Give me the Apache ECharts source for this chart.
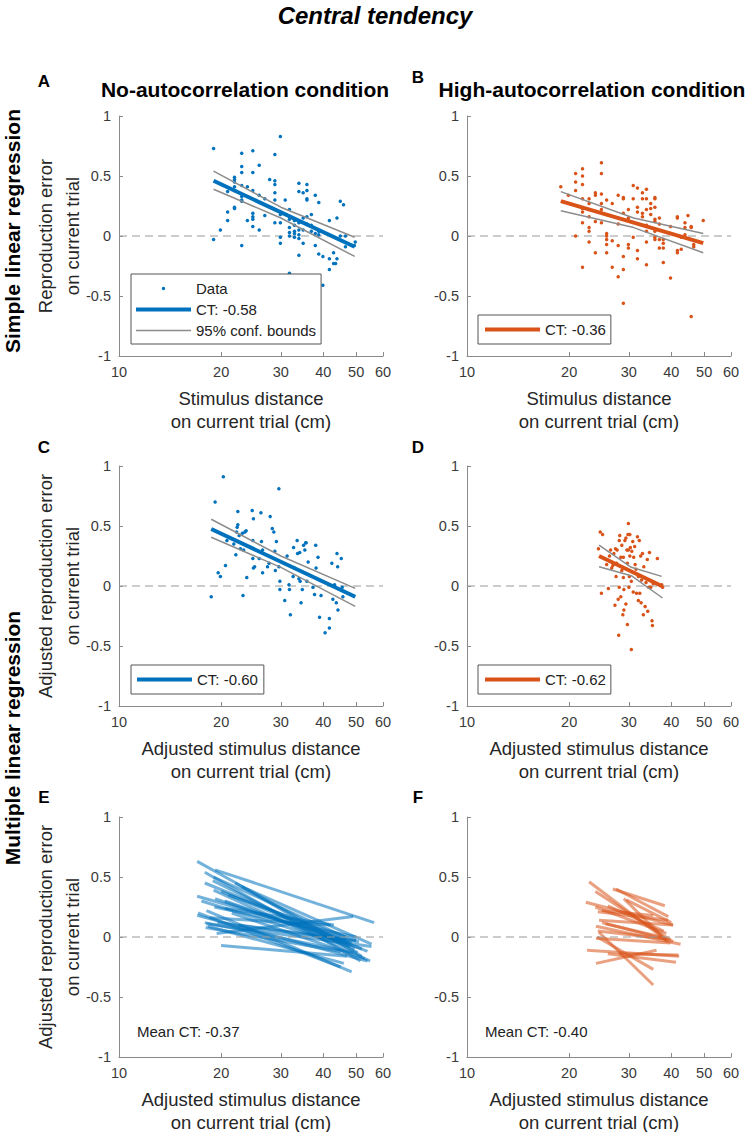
<!DOCTYPE html>
<html><head><meta charset="utf-8">
<script src="https://cdn.jsdelivr.net/npm/echarts@6/dist/echarts.min.js"></script>
<style>html,body{margin:0;padding:0;background:#fff}#chart{width:748px;height:1132px}</style>
</head><body><div id="chart"></div>
<script>
// ---------------- data ----------------
const xTicks = [10, 20, 30, 40, 50, 60];
const yTicks = [-1, -0.5, 0, 0.5, 1];
const zeroLine = [[10, 0], [60, 0]];

// Panel A: simple regression, no-autocorrelation (x = stimulus distance cm, y = reproduction error)
const scatterA = [[19.0,0.73],[19.0,-0.03],[19.9,0.05],[20.9,0.20],[20.9,0.13],[20.9,0.37],
[21.9,0.49],[21.9,0.47],[21.9,0.45],[21.9,0.41],[21.9,0.38],[21.9,0.24],[21.9,0.23],
[23.0,0.69],[23.0,0.58],[23.0,0.53],[23.0,0.42],[23.0,0.33],[23.0,0.30],[23.0,0.29],[23.0,-0.08],
[23.9,0.41],[23.9,0.13],[24.8,0.71],[24.8,0.53],[24.8,0.38],[24.8,0.19],[24.8,0.16],[24.8,0.14],[24.8,0.08],
[25.9,0.59],[25.9,0.34],[25.9,0.05],[26.9,0.31],[26.9,0.17],[27.8,0.47],
[28.8,0.68],[28.8,0.46],[28.8,0.36],[28.8,0.30],[28.8,0.11],[28.8,0.43],
[29.9,0.83],[29.9,0.18],[29.9,0.11],[29.9,-0.01],[29.9,-0.06],[30.9,0.30],
[31.8,0.22],[31.8,0.14],[31.8,0.07],[31.8,0.03],[31.8,0.00],[31.8,-0.31],
[32.9,0.13],[32.9,0.09],[32.9,0.04],[32.9,0.02],[32.9,-0.01],
[33.9,0.44],[33.9,0.37],[33.9,0.11],[33.9,0.05],[33.9,0.01],[33.9,-0.02],[33.9,-0.16],
[34.9,0.36],[34.9,0.15],[34.9,0.05],[34.9,-0.06],
[35.8,0.43],[35.8,0.38],[35.8,0.31],[35.8,0.30],[35.8,0.16],[35.8,0.10],
[36.9,0.18],[36.9,0.09],[36.9,0.04],[37.9,0.34],[37.9,-0.08],[37.9,0.02],
[38.8,0.28],[38.8,0.04],[38.8,0.01],[38.8,-0.15],[39.9,-0.41],[39.9,-0.17],
[41.7,0.13],[41.7,-0.19],[41.7,-0.28],[42.9,-0.14],[42.9,-0.23],[43.5,-0.23],
[43.9,0.15],[43.9,-0.19],[44.9,0.29],[44.9,0.00],[45.9,0.26],[46.5,0.00],[46.5,-0.09],
[49.7,-0.05],[49.4,-0.08]];
const fitA = [[19.0, 0.46], [49.5, -0.09]];
const ciUpA = [[19.0, 0.54], [30.0, 0.24], [49.5, -0.01]];
const ciLoA = [[19.0, 0.39], [30.0, 0.15], [49.5, -0.17]];

// Panel B: simple regression, high-autocorrelation
const scatterB = [[18.9,0.41],[19.9,0.34],
[20.9,0.52],[20.9,0.45],[20.9,0.38],[20.9,0.00],
[21.9,0.56],[21.9,0.50],[21.9,0.43],[21.9,0.31],[21.9,0.23],[21.9,0.20],[21.9,0.11],[21.9,-0.26],
[22.9,0.31],[22.9,0.27],[22.9,0.22],[22.9,0.16],[22.9,0.07],[22.9,0.04],[22.9,-0.05],
[23.9,0.36],[23.9,0.34],[23.9,0.12],[23.9,-0.14],
[24.9,0.61],[24.9,0.52],[24.9,0.35],[24.9,0.27],[24.9,0.22],[24.9,0.11],
[25.8,0.30],[25.8,0.02],[25.8,0.00],[25.8,-0.03],[25.8,-0.07],[25.8,-0.14],
[26.8,0.27],[26.8,-0.04],[26.8,-0.26],[27.9,0.34],[27.9,0.10],[27.9,-0.08],[27.9,-0.34],
[28.9,0.32],[28.9,0.31],[28.9,0.19],[28.9,-0.17],[28.9,-0.28],[28.9,-0.56],
[29.9,0.22],[29.9,0.15],[29.9,-0.07],[29.9,-0.10],[30.9,0.42],[30.9,0.31],[30.9,-0.01],
[31.8,0.40],[31.8,0.24],[31.8,0.20],[31.8,-0.12],[31.8,-0.19],
[32.9,0.36],[32.9,0.31],[32.9,0.19],[32.9,0.16],
[33.8,0.39],[33.8,0.31],[33.8,0.22],[33.8,0.09],[33.8,0.04],[33.8,-0.05],[33.8,-0.24],
[34.8,0.27],[34.8,0.23],[34.8,0.18],
[35.8,0.32],[35.8,0.31],[35.8,0.24],[35.8,0.14],[35.8,0.12],[35.8,0.04],[35.8,-0.01],[35.8,-0.03],
[36.9,0.15],[36.9,0.10],[36.9,-0.10],[36.9,-0.03],
[37.9,-0.03],[37.9,-0.06],[37.9,-0.10],[37.9,-0.22],[39.8,0.08],[39.8,-0.35],
[41.7,0.16],[41.7,0.15],[41.7,-0.12],[41.7,-0.14],[42.8,-0.11],[42.8,-0.01],
[43.9,0.11],[43.9,0.07],[43.9,0.01],[44.8,0.17],[45.8,0.08],[45.8,0.07],[45.8,-0.67],
[46.6,-0.07],[46.6,-0.09],[49.7,0.13]];
const fitB = [[18.9, 0.29], [49.7, -0.06]];
const ciUpB = [[18.9, 0.37], [31.0, 0.15], [49.7, 0.02]];
const ciLoB = [[18.9, 0.21], [31.0, 0.07], [49.7, -0.14]];

// Panel C: multiple regression, no-autocorrelation (adjusted)
const scatterC = [[18.7,-0.09],[19.2,0.70],[19.6,0.11],[19.9,0.08],[20.3,0.91],[20.6,0.17],[20.8,0.38],
[21.8,0.35],[22.1,0.26],[22.2,0.45],[22.3,0.49],[22.4,0.62],[22.4,0.51],[22.6,0.42],[22.8,0.31],
[23.1,0.44],[23.2,-0.08],[23.3,0.30],[23.5,0.45],[23.7,0.46],[23.8,0.07],
[24.7,0.63],[24.8,0.38],[24.8,0.23],[24.9,0.56],[24.9,0.15],[25.1,0.16],
[25.9,0.23],[26.2,0.61],[26.3,0.37],[26.5,0.11],[26.5,0.30],
[27.4,0.16],[27.7,0.19],[27.9,0.58],[28.3,0.48],[28.6,0.45],[28.8,0.29],[28.9,0.13],[29.1,0.37],
[29.6,0.81],[29.6,0.16],[29.8,0.04],[29.8,-0.03],
[30.8,-0.12],[31.3,0.25],[31.7,0.01],[31.8,-0.03],[32.0,-0.24],
[32.6,0.08],[32.7,0.32],[32.9,0.15],[33.5,0.38],[33.6,0.27],[33.9,0.06],[34.1,0.28],
[34.2,0.04],[34.4,-0.14],[34.7,-0.03],[35.0,0.34],[35.3,0.30],[35.5,0.36],[35.6,0.36],[35.8,0.04],[36.1,0.20],
[37.3,-0.01],[37.7,-0.07],[38.0,0.34],[38.1,0.15],[38.6,0.24],[39.0,-0.26],[39.4,-0.08],
[40.5,-0.39],[41.7,-0.35],[41.7,-0.27],[42.4,0.19],[42.7,-0.11],[43.2,0.01],[43.7,-0.14],
[43.9,0.27],[44.2,-0.20],[44.1,0.16],[45.2,0.23],[45.5,-0.01],[45.7,-0.09]];
const fitC = [[18.7, 0.475], [49.7, -0.09]];
const ciUpC = [[18.7, 0.556], [30.0, 0.25], [49.7, -0.02]];
const ciLoC = [[18.7, 0.406], [30.0, 0.155], [49.7, -0.17]];

// Panel D: multiple regression, high-autocorrelation (adjusted)
const scatterD = [[24.4,0.31],[24.7,0.45],[25.1,0.43],[24.9,-0.06],
[25.8,0.18],[26.1,-0.02],[26.3,0.25],[26.5,0.30],[26.7,0.15],[26.9,0.17],
[27.1,0.27],[27.3,-0.16],[27.4,0.31],[27.5,0.08],[27.6,0.19],[27.7,0.30],[27.9,-0.11],[28.0,-0.41],[28.1,0.38],[28.1,-0.01],
[28.2,0.42],[28.4,-0.09],[28.4,0.24],[28.6,0.34],[28.6,0.13],[28.8,-0.24],[28.9,0.07],[28.9,0.24],[29.0,-0.20],[29.0,-0.03],
[29.2,0.38],[29.4,-0.15],[29.4,0.40],[29.6,0.30],[29.7,-0.32],[29.7,0.19],[29.8,0.43],[29.9,0.52],[29.9,0.30],[30.0,-0.01],
[30.1,0.08],[30.2,0.43],[30.2,0.25],[30.3,0.32],[30.5,0.04],[30.5,-0.53],[30.6,0.29],[30.8,0.37],[30.9,-0.05],[31.0,0.24],
[31.2,0.33],[31.3,0.18],[31.5,0.14],[31.6,-0.06],[31.8,0.41],[32.0,0.08],[32.0,-0.12],[32.2,0.38],[32.3,-0.06],[32.5,0.25],
[32.6,-0.14],[32.7,0.05],[32.9,0.27],[33.1,-0.24],[33.2,0.16],[33.5,-0.17],[33.7,0.03],[34.0,0.22],[34.1,-0.21],[34.3,-0.01],
[34.5,0.28],[34.8,-0.01],[35.1,-0.29],[35.2,-0.33],[35.4,0.02],[36.4,0.23],[37.5,0.01],[37.7,-0.01]];
const fitD = [[24.5, 0.25], [37.5, 0.0]];
const ciUpD = [[24.5, 0.34], [30.5, 0.156], [37.5, 0.08]];
const ciLoD = [[24.5, 0.16], [30.5, 0.086], [37.7, -0.10]];

// Panel E: per-participant fits, no-autocorrelation [x1, y1, x2, y2]
const linesE = [
[17.0,0.63,49.5,-0.10],[17.9,0.54,51.5,-0.20],[19.2,0.56,56.5,0.12],[17.9,0.45,48.5,-0.05],
[18.9,0.47,50.5,-0.13],[17.0,0.34,47.0,-0.02],[19.0,0.39,55.0,-0.20],[19.2,0.32,52.0,-0.10],
[17.1,0.20,45.0,-0.25],[17.0,0.18,54.0,-0.20],[18.1,0.22,48.5,-0.29],[19.1,0.25,50.0,0.00],
[17.9,0.12,49.0,-0.13],[18.1,0.11,55.5,-0.08],[18.3,0.09,46.0,-0.22],[19.4,0.03,49.0,0.17],
[20.0,-0.07,47.0,-0.16],[20.5,0.24,43.0,0.10],[21.0,0.35,50.0,-0.03],[22.0,0.45,52.0,-0.16],
[23.0,0.42,55.5,-0.06],[18.5,0.16,42.0,0.10],[19.5,0.12,51.0,-0.04],[20.5,0.30,47.5,-0.05],
[17.5,0.30,48.0,-0.08],[18.0,0.08,45.0,-0.12],[21.5,0.20,53.0,-0.18],[19.0,0.50,46.5,0.00],
[22.5,0.10,50.0,-0.03],[20.0,0.38,54.0,-0.12]];

// Panel F: per-participant fits, high-autocorrelation [x1, y1, x2, y2]
const linesF = [
[22.9,0.46,39.2,-0.04],[23.9,0.38,40.5,-0.04],[22.4,0.29,40.5,0.10],[23.9,0.25,38.7,0.03],
[26.9,0.40,38.3,0.26],[27.5,0.40,39.2,0.17],[24.3,0.21,39.2,0.14],[24.5,0.14,40.5,0.10],
[24.0,0.09,42.6,-0.06],[24.3,0.05,39.8,-0.02],[24.0,-0.01,39.8,-0.05],[24.5,0.04,35.4,-0.40],
[24.2,0.00,35.4,-0.27],[22.6,-0.11,42.2,-0.16],[24.0,-0.22,36.2,-0.11],[26.0,-0.14,41.3,-0.21],
[25.6,0.11,37.4,0.00],[25.0,0.22,35.4,0.18],[29.0,0.32,38.7,-0.03],[29.5,0.31,40.0,0.12],
[26.0,0.26,38.0,0.05],[25.0,0.12,38.7,-0.02],[28.0,-0.14,42.0,-0.15]];

const ctLabels = ['CT: -0.58', 'CT: -0.36', 'CT: -0.60', 'CT: -0.62'];
const meanCT = ['Mean CT: -0.37', 'Mean CT: -0.40'];

// ---------------- styling / layout ----------------
const FONT = '"Liberation Sans", Arial, Helvetica, sans-serif';
const BLUE = '#0072BD', ORANGE = '#D95319', GRAY = '#8c8c8c', AXIS = '#8a8a8a';
const grids = [
  {left: 119, top: 116}, {left: 467, top: 116},
  {left: 119, top: 466}, {left: 467, top: 466},
  {left: 119, top: 817}, {left: 467, top: 817}
].map(g => Object.assign({width: 264, height: 240, containLabel: false, outerBoundsMode: 'none'}, g));

const xNames = ['Stimulus distance\non current trial (cm)', 'Stimulus distance\non current trial (cm)',
  'Adjusted stimulus distance\non current trial (cm)', 'Adjusted stimulus distance\non current trial (cm)',
  'Adjusted stimulus distance\non current trial (cm)', 'Adjusted stimulus distance\non current trial (cm)'];
const yNames = ['Reproduction error\non current trial', '', 'Adjusted reproduction error\non current trial', '',
  'Adjusted reproduction error\non current trial', ''];

const xAxes = grids.map((g, i) => ({
  gridIndex: i, type: 'log', logBase: 10, min: 10, max: 60,
  name: xNames[i], nameLocation: 'middle', nameGap: 31, nameMoveOverlap: false,
  nameTextStyle: {fontSize: 18.5, lineHeight: 23, color: '#262626', fontFamily: FONT},
  axisLine: {show: true, onZero: false, lineStyle: {color: AXIS, width: 1}},
  axisTick: {show: true, inside: true, length: 4, customValues: xTicks, lineStyle: {color: AXIS}},
  axisLabel: {show: true, customValues: xTicks, fontSize: 14.5, color: '#3a3a3a', margin: 8, fontFamily: FONT,
    formatter: v => String(Math.round(v))},
  minorTick: {show: false}, splitLine: {show: false}, minorSplitLine: {show: false}
}));
const yAxes = grids.map((g, i) => ({
  gridIndex: i, type: 'value', min: -1, max: 1, interval: 0.5,
  name: yNames[i], nameLocation: 'middle', nameGap: 33, nameRotate: 90, nameMoveOverlap: false,
  nameTextStyle: {fontSize: 18.5, lineHeight: 27, color: '#262626', fontFamily: FONT},
  axisLine: {show: true, onZero: false, lineStyle: {color: AXIS, width: 1}},
  axisTick: {show: true, inside: true, length: 4, lineStyle: {color: AXIS}},
  axisLabel: {show: true, fontSize: 14.5, color: '#3a3a3a', margin: 8, fontFamily: FONT},
  splitLine: {show: false}
}));

function zero(i, z) {
  return {type: 'line', name: 'zero' + i, xAxisIndex: i, yAxisIndex: i, data: zeroLine, symbol: 'none', silent: true, z: z,
    lineStyle: {color: '#999', width: 1.2, type: [8, 5]}};
}
function scatter(name, i, data, color) {
  return {type: 'scatter', name, xAxisIndex: i, yAxisIndex: i, data, symbol: 'circle', symbolSize: 3.5, silent: true, z: 3,
    itemStyle: {color, opacity: 1}};
}
function fit(name, i, data, color) {
  return {type: 'line', name, xAxisIndex: i, yAxisIndex: i, data, symbol: 'none', silent: true, z: 4,
    lineStyle: {color, width: 4}, itemStyle: {color}};
}
function ci(name, i, data) {
  return {type: 'line', name, xAxisIndex: i, yAxisIndex: i, data, symbol: 'none', silent: true, z: 5,
    lineStyle: {color: GRAY, width: 1.5}, itemStyle: {color: GRAY}};
}
function segs(i, arr, color) {
  return {type: 'lines', coordinateSystem: 'cartesian2d', xAxisIndex: i, yAxisIndex: i, silent: true, z: 3,
    data: arr.map(s => ({coords: [[s[0], s[1]], [s[2], s[3]]]})),
    lineStyle: {color, width: 3, opacity: 0.55}};
}

const series = [
  zero(0, 1), scatter('Data', 0, scatterA, BLUE), fit(ctLabels[0], 0, fitA, BLUE),
  ci('95% conf. bounds', 0, ciUpA), ci('95% conf. bounds', 0, ciLoA),
  zero(1, 1), scatter('Data B', 1, scatterB, ORANGE), fit(ctLabels[1], 1, fitB, ORANGE),
  ci('bounds B', 1, ciUpB), ci('bounds B', 1, ciLoB),
  zero(2, 1), scatter('Data C', 2, scatterC, BLUE), fit(ctLabels[2], 2, fitC, BLUE),
  ci('bounds C', 2, ciUpC), ci('bounds C', 2, ciLoC),
  zero(3, 1), scatter('Data D', 3, scatterD, ORANGE), fit(ctLabels[3], 3, fitD, ORANGE),
  ci('bounds D', 3, ciUpD), ci('bounds D', 3, ciLoD),
  segs(4, linesE, BLUE), zero(4, 6),
  segs(5, linesF, ORANGE), zero(5, 6)
];

const DOT = 'path://M0,0M55,14M25.75,7A1.75,1.75,0,1,0,29.25,7A1.75,1.75,0,1,0,25.75,7Z';
const THICK = 'path://M0,0M55,14M0,5L55,5L55,9L0,9Z';
const THIN = 'path://M0,0M55,14M0,6.25L55,6.25L55,7.75L0,7.75Z';
const legendBase = {
  orient: 'vertical', itemWidth: 55, itemHeight: 14, itemGap: 6, selectedMode: false,
  borderColor: '#555', borderWidth: 1, backgroundColor: '#fff', borderRadius: 0, z: 10,
  textStyle: {fontSize: 15, color: '#222', fontFamily: FONT}
};
function item(name, icon, color) { return {name, icon, itemStyle: {color, borderWidth: 0}}; }
const legends = [
  Object.assign({}, legendBase, {left: 131, top: 274, padding: [7, 5, 6, 5],
    data: [item('Data', DOT, BLUE), item(ctLabels[0], THICK, BLUE), item('95% conf. bounds', THIN, GRAY)]}),
  Object.assign({}, legendBase, {left: 478, top: 315, padding: [7, 5, 7, 7], data: [item(ctLabels[1], THICK, ORANGE)]}),
  Object.assign({}, legendBase, {left: 131, top: 665, padding: [7, 6, 7, 6], data: [item(ctLabels[2], THICK, BLUE)]}),
  Object.assign({}, legendBase, {left: 478, top: 665, padding: [7, 5, 7, 7], data: [item(ctLabels[3], THICK, ORANGE)]})
];

function txt(text, x, y, size, opts) {
  opts = opts || {};
  return {type: 'text', x, y, rotation: opts.rotation || 0, silent: true, z: 20,
    style: {text, fill: opts.fill || '#000', align: opts.align || 'center', verticalAlign: 'middle',
      font: (opts.style || '') + ' ' + (opts.weight || 'normal') + ' ' + size + 'px ' + FONT}};
}
const graphics = [
  txt('Central tendency', 375, 15, 24, {style: 'italic', weight: 'bold'}),
  txt('A', 44, 81, 17, {weight: 'bold'}), txt('B', 418, 77, 17, {weight: 'bold'}),
  txt('No-autocorrelation condition', 245, 89, 21, {weight: 'bold'}),
  txt('High-autocorrelation condition', 592, 89, 21, {weight: 'bold'}),
  txt('C', 44, 447, 17, {weight: 'bold'}), txt('D', 418, 447, 17, {weight: 'bold'}),
  txt('E', 44, 797, 17, {weight: 'bold'}), txt('F', 418, 797, 17, {weight: 'bold'}),
  txt('Simple linear regression', 12, 231, 21, {weight: 'bold', rotation: Math.PI / 2}),
  txt('Multiple linear regression', 12, 738, 21, {weight: 'bold', rotation: Math.PI / 2}),
  txt(meanCT[0], 137, 1031, 15, {align: 'left', fill: '#222'}),
  txt(meanCT[1], 485, 1031, 15, {align: 'left', fill: '#222'})
];

const chart = echarts.init(document.getElementById('chart'), null, {renderer: 'svg', width: 748, height: 1132});
chart.setOption({
  backgroundColor: '#fff',
  animation: false,
  textStyle: {fontFamily: FONT},
  grid: grids, xAxis: xAxes, yAxis: yAxes,
  legend: legends, series, graphic: graphics
});
</script>
</body></html>
